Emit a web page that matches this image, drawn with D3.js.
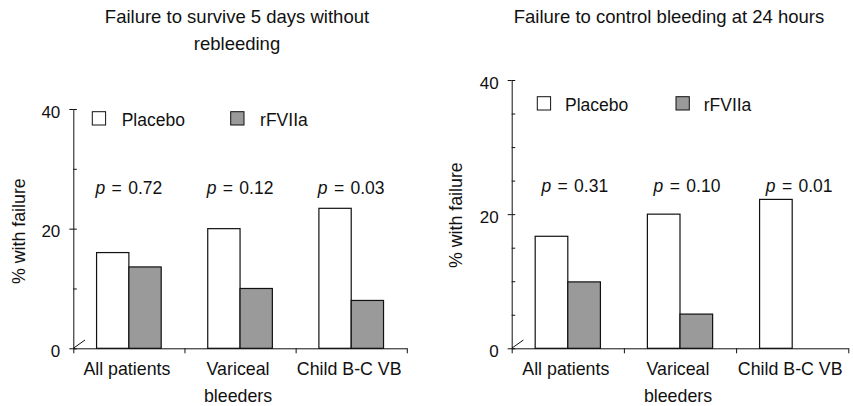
<!DOCTYPE html>
<html>
<head>
<meta charset="utf-8">
<script src="https://cdn.jsdelivr.net/npm/d3@7"></script>
<style>
  html, body { margin: 0; padding: 0; background: #fff; }
  svg { display: block; font-family: "Liberation Sans", Arial, Helvetica, sans-serif; }
</style>
</head>
<body>
<svg id="chart" width="853" height="406"></svg>
<script>
// ---- data ----
const categories = [["All patients"], ["Variceal", "bleeders"], ["Child B-C VB"]];
const seriesNames = ["Placebo", "rFVIIa"];

const surviveTitle = ["Failure to survive 5 days without", "rebleeding"];
const survivePlacebo = [16, 20, 23.4];
const surviveRFVIIa = [13.6, 10, 8];
const surviveP = ["0.72", "0.12", "0.03"];
const surviveMinorTicks = [10, 30];

const controlTitle = ["Failure to control bleeding at 24 hours"];
const controlPlacebo = [16.7, 20, 22.2];
const controlRFVIIa = [9.9, 5.1, 0];
const controlP = ["0.31", "0.10", "0.01"];
const controlMinorTicks = [5, 10, 15, 25, 30, 35];

const yMajorTicks = [0, 20, 40];
const yMax = 40;
const yLabel = "% with failure";

// ---- styling ----
const INK = "#111";
const fills = { Placebo: "#ffffff", rFVIIa: "#9a9a9a" };
const FONT = "\"Liberation Sans\", Arial, Helvetica, sans-serif";

const svg = d3.select("#chart");

function drawPanel(opts) {
  const { left, top, bottom, width, title, placebo, treated, pvals, minorTicks, lay } = opts;
  const g = svg.append("g").attr("transform", `translate(${left},0)`);

  const y = d3.scaleLinear().domain([0, yMax]).range([bottom, top]);
  const x = d3.scaleBand().domain(d3.range(categories.length)).range([0, width]).paddingInner(0).paddingOuter(0);
  const xs = d3.scaleBand().domain(seriesNames).range([0, x.bandwidth()]).paddingInner(0).paddingOuter(0.72);
  const xLin = d3.scaleLinear().domain([0, categories.length]).range([0, width]);

  // title
  const t = g.append("text")
    .attr("x", lay.titleX).attr("y", 22.7)
    .attr("text-anchor", "middle")
    .style("font-family", FONT).style("font-size", "18.5px").attr("fill", INK);
  title.forEach((line, i) => {
    t.append("tspan").attr("x", lay.titleX).attr("dy", i === 0 ? 0 : 27.3).text(line);
  });

  // bars
  const rows = categories.map((c, i) => ({ i, values: [
    { key: "Placebo", value: placebo[i] },
    { key: "rFVIIa", value: treated[i] }
  ]}));
  const grp = g.selectAll("g.cat").data(rows).join("g")
    .attr("class", "cat")
    .attr("transform", d => `translate(${x(d.i)},0)`);
  grp.selectAll("rect").data(d => d.values).join("rect")
    .attr("x", d => xs(d.key))
    .attr("width", xs.bandwidth())
    .attr("y", d => y(d.value))
    .attr("height", d => y(0) - y(d.value))
    .attr("fill", d => fills[d.key])
    .attr("stroke", INK)
    .attr("stroke-width", 1.2);

  // p-values
  g.selectAll("text.pval").data(pvals).join("text")
    .attr("class", "pval")
    .attr("x", (d, i) => x(i) + x.bandwidth() / 2 + lay.pDx)
    .attr("y", lay.pY)
    .attr("text-anchor", "middle")
    .style("font-family", FONT).style("font-size", "17.5px")
    .style("word-spacing", "1.5px")
    .attr("fill", INK)
    .each(function (d) {
      const s = d3.select(this);
      s.append("tspan").style("font-style", "italic").text("p");
      s.append("tspan").text(" = " + d);
    });

  // y axis: labelled major ticks crossing the line, plus inner minor ticks
  g.append("g")
    .call(d3.axisLeft(y).tickValues(yMajorTicks).tickSizeInner(4).tickSizeOuter(0).tickPadding(9))
    .call(a => {
      a.attr("font-family", null).attr("font-size", null);
      a.select(".domain").attr("stroke", INK);
      a.selectAll(".tick line").attr("stroke", INK);
      a.selectAll(".tick text")
        .attr("dy", "0.48em")
        .style("font-family", FONT).style("font-size", "17px").attr("fill", INK);
    });
  g.append("g")
    .call(d3.axisRight(y).tickValues(yMajorTicks.concat(minorTicks)).tickSize(3.5).tickFormat(""))
    .call(a => {
      a.select(".domain").remove();
      a.selectAll(".tick line").attr("stroke", INK);
    });

  // x axis with ticks at category boundaries
  g.append("g")
    .attr("transform", `translate(0,${bottom})`)
    .call(d3.axisBottom(xLin).tickValues(d3.range(categories.length + 1)).tickSizeInner(5).tickSizeOuter(0).tickFormat(""))
    .call(a => {
      a.select(".domain").attr("stroke", INK);
      a.selectAll(".tick line").attr("stroke", INK);
    });

  // axis break mark at the origin
  g.append("line")
    .attr("x1", 0).attr("y1", y(0))
    .attr("x2", 11.7).attr("y2", y(0) - 8.3)
    .attr("stroke", INK).attr("stroke-width", 1);

  // category labels
  const cl = g.selectAll("text.cat").data(categories).join("text")
    .attr("class", "cat")
    .attr("text-anchor", "middle")
    .attr("y", bottom + 26.7)
    .style("font-family", FONT).style("font-size", "17.8px").attr("fill", INK);
  cl.each(function (lines, i) {
    const cx = x(i) + x.bandwidth() / 2 - 2;
    lines.forEach((line, k) => {
      d3.select(this).append("tspan").attr("x", cx).attr("dy", k === 0 ? 0 : 26.7).text(line);
    });
  });

  // y-axis title
  g.append("text")
    .attr("transform", `translate(${lay.yLabelX},${(top + bottom) / 2 + lay.yLabelDy}) rotate(-90)`)
    .attr("text-anchor", "middle")
    .style("font-family", FONT).style("font-size", "17.8px").attr("fill", INK)
    .text(yLabel);

  // legend
  const leg = g.selectAll("g.legend").data(seriesNames).join("g")
    .attr("class", "legend")
    .attr("transform", (d, i) => `translate(${lay.legendX[i]},${lay.legendTop})`);
  leg.append("rect")
    .attr("x", 0).attr("y", 0).attr("width", 13.3).attr("height", 13.3)
    .attr("fill", d => fills[d]).attr("stroke", INK).attr("stroke-width", 1);
  leg.append("text")
    .attr("x", lay.legendTextGap).attr("y", 14.3)
    .style("font-family", FONT).style("font-size", "17.5px").attr("fill", INK)
    .text(d => d);
}

drawPanel({
  left: 73.3, top: 109, bottom: 348.3, width: 333.5,
  title: surviveTitle, placebo: survivePlacebo, treated: surviveRFVIIa,
  pvals: surviveP, minorTicks: surviveMinorTicks,
  lay: { titleX: 163.7, pY: 194, pDx: 0, yLabelX: -48.3, yLabelDy: 2.5,
         legendTop: 111.7, legendX: [19, 157.4], legendTextGap: 29.4 }
});

drawPanel({
  left: 511.7, top: 80, bottom: 348.3, width: 336.6,
  title: controlTitle, placebo: controlPlacebo, treated: controlRFVIIa,
  pvals: controlP, minorTicks: controlMinorTicks,
  lay: { titleX: 157.3, pY: 191.7, pDx: 7, yLabelX: -50, yLabelDy: 1,
         legendTop: 96.7, legendX: [25.6, 164.3], legendTextGap: 27.7 }
});
</script>
</body>
</html>
